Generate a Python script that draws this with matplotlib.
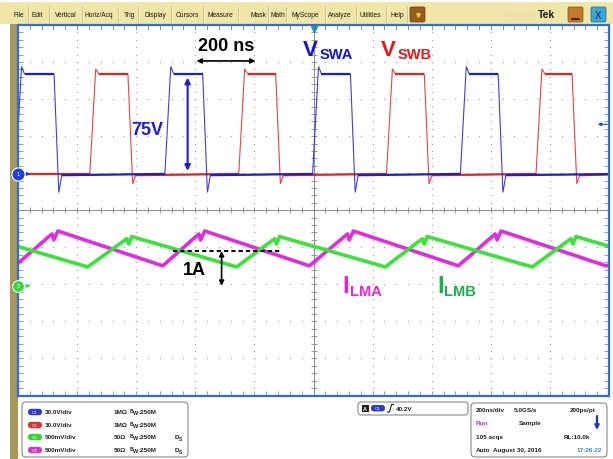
import numpy as np
import matplotlib.pyplot as plt
from matplotlib.patches import Rectangle, FancyBboxPatch
from matplotlib.collections import LineCollection

plt.rcParams['font.family'] = ['Liberation Sans', 'DejaVu Sans']

# ---------------- values ----------------
# time base 200 ns/div, 10 div on screen -> 0..2000 ns
# CH1 (VSWA) / CH2 (VSWB): 30 V/div, ground ~1 div above centre
swa_rise = [-8, 497, 997, 1497]
swa_fall = [122, 625, 1125, 1625]
swb_rise = [243, 747, 1247, 1753]
swb_fall = [372, 872, 1375, 1875]
v_high = 81.0
swa_over, swb_over = 87.0, 85.0
swa_under, swb_under = -15.0, -8.0
trig_level = 40.2

# CH4 (ILMA) / CH3 (ILMB): 1 A/div, ground ~2 div below centre
ilma_t = [-10, 115, 121, 135, 490, 612, 618, 632, 986, 1115, 1121, 1135,
          1490, 1615, 1621, 1635, 1990, 2000]
ilma_a = [0.54, 1.40, 1.24, 1.48, 0.54, 1.40, 1.24, 1.48, 0.54, 1.40, 1.24, 1.48,
          0.54, 1.40, 1.24, 1.48, 0.54, 0.56]
ilmb_t = [-115, 236, 368, 375, 385, 740, 868, 875, 885, 1243, 1368, 1375, 1385,
          1740, 1871, 1878, 1888, 2000]
ilmb_a = [1.33, 0.51, 1.27, 1.13, 1.33, 0.51, 1.27, 1.13, 1.33, 0.51, 1.27, 1.13,
          1.33, 0.51, 1.27, 1.13, 1.33, 1.07]

V_DIV = 30.0
CH12_POS = 0.98
CH34_POS = -2.04

# readout panel
ch_names = ['C1', 'C2', 'C3', 'C4']
ch_scale = ['30.0V/div', '30.0V/div', '500mV/div', '500mV/div']
ch_term = ['1M\u03a9', '1M\u03a9', '50\u03a9', '50\u03a9']
ch_ds = [False, False, True, True]
menu_items = ['File', 'Edit', 'Vertical', 'Horiz/Acq', 'Trig', 'Display', 'Cursors',
              'Measure', 'Mask', 'Math', 'MyScope', 'Analyze', 'Utilities', 'Help']

BLUE = '#1c1ce0'
RED = '#e42222'
GREEN = '#3ae23a'
MAGENTA = '#e22ae2'
PILL = ['#2a3ad8', '#d83434', '#36d236', '#d436d4']
TXT = '#222222'
FS = 4.6

fig = plt.figure(figsize=(6.13, 4.60), dpi=100)

# ---------- window chrome (pixel coordinates) ----------
bg = fig.add_axes([0, 0, 1, 1])
bg.set_xlim(0, 613)
bg.set_ylim(460, 0)
bg.axis('off')
bg.add_patch(Rectangle((0, 3), 613, 22, color='#efe6a8', lw=0))
bg.add_patch(Rectangle((10, 25), 8, 435, color='#a8965a', lw=0))

menu_x = [19, 37, 66, 99, 129, 155, 187, 220, 258, 278, 305, 340, 370, 397]
for name, x in zip(menu_items, menu_x):
    bg.text(x, 15.5, name, ha='center', va='center', fontsize=4.8, color='#1a1a1a')
for x in [28, 49, 82, 118, 138, 171, 203, 238, 268, 286, 325, 356, 386, 407]:
    bg.plot([x, x], [7, 23], color='#cbc088', lw=0.6)
    bg.plot([x + 0.8, x + 0.8], [7, 23], color='#fbf6d8', lw=0.5)

bg.add_patch(FancyBboxPatch((410, 8), 15, 15, boxstyle='round,pad=0,rounding_size=1.5',
                            fc='#9a5c1e', ec='#6a3c10', lw=0.5))
bg.plot(417.5, 15.5, marker='v', ms=2.5, color='#f0d040')
bg.text(520, 15.5, 'DPO7254', ha='center', va='center', fontsize=5, color='#e4daa0')
bg.text(547, 15.5, 'Tek', ha='center', va='center', fontsize=7.5, fontweight='bold',
        color='#1a1a1a')
bg.add_patch(FancyBboxPatch((568, 8), 15, 15, boxstyle='round,pad=0,rounding_size=1.5',
                            fc='#c47a2a', ec='#8a5010', lw=0.5))
bg.plot([572, 579], [19.5, 19.5], color='#1a1a1a', lw=1.2)
bg.add_patch(FancyBboxPatch((591, 8), 15, 15, boxstyle='round,pad=0,rounding_size=1.5',
                            fc='#3aa8d4', ec='#1a6a90', lw=0.5))
bg.text(598.5, 16, 'X', ha='center', va='center', fontsize=7, color='#102050')

# ---------- readout panels ----------
bg.add_patch(FancyBboxPatch((22, 403), 166, 55, boxstyle='round,pad=0,rounding_size=4',
                            fc='white', ec='#8a8a8a', lw=0.8))
rows_y = [413, 426, 438, 451]
for i, y in enumerate(rows_y):
    bg.add_patch(FancyBboxPatch((28, y - 3.2), 14, 6.4,
                                boxstyle='round,pad=0,rounding_size=3.2',
                                fc=PILL[i], ec='none'))
    bg.text(35, y, ch_names[i], ha='center', va='center', fontsize=3.2, color='white')
    bg.text(45, y, ch_scale[i], ha='left', va='center', fontsize=FS, fontweight='bold',
            color=TXT)
    bg.text(114, y, ch_term[i], ha='left', va='center', fontsize=FS, fontweight='bold',
            color=TXT)
    bg.text(130, y - 1.8, 'B', ha='left', va='center', fontsize=3.6, fontweight='bold',
            color=TXT)
    bg.text(133, y + 1, 'W', ha='left', va='center', fontsize=4.0, fontweight='bold',
            color=TXT)
    bg.text(138.5, y, ':250M', ha='left', va='center', fontsize=FS, fontweight='bold',
            color=TXT)
    if ch_ds[i]:
        bg.text(175, y - 0.5, 'D', ha='left', va='center', fontsize=FS, fontweight='bold',
                color=TXT)
        bg.text(179, y + 2, 'S', ha='left', va='center', fontsize=3.6, fontweight='bold',
                color=TXT)

bg.add_patch(FancyBboxPatch((358, 403), 110, 13, boxstyle='round,pad=0,rounding_size=3',
                            fc='white', ec='#8a8a8a', lw=0.8))
bg.add_patch(Rectangle((361.5, 405.5), 7, 7, fc='#202020', ec='none'))
bg.text(365, 409.2, 'A', ha='center', va='center', fontsize=4, color='white',
        fontweight='bold')
bg.add_patch(FancyBboxPatch((371, 406), 14, 6.4, boxstyle='round,pad=0,rounding_size=3.2',
                            fc=PILL[0], ec='none'))
bg.text(378, 409.2, 'C1', ha='center', va='center', fontsize=3.2, color='white')
bg.plot([387.5, 389.5, 391.5, 393.5], [413, 413, 405.5, 405.5], color=TXT, lw=0.8)
bg.text(395.5, 409.2, '40.2V', ha='left', va='center', fontsize=FS, fontweight='bold',
        color=TXT)

bg.add_patch(FancyBboxPatch((471, 404), 136, 54, boxstyle='round,pad=0,rounding_size=4',
                            fc='white', ec='#8a8a8a', lw=0.8))
kw = dict(va='center', fontsize=FS, fontweight='bold', color=TXT)
bg.text(476, 410.5, '200ns/div', ha='left', **kw)
bg.text(514, 410.5, '5.0GS/s', ha='left', **kw)
bg.text(595, 410.5, '200ps/pt', ha='right', **kw)
bg.text(476, 424, 'Run', ha='left', va='center', fontsize=FS, fontweight='bold',
        color='#e020e0')
bg.text(519, 424, 'Sample', ha='left', **kw)
bg.annotate('', xy=(597, 431), xytext=(597, 417),
            arrowprops=dict(arrowstyle='-|>', color='#1a36c8', lw=1.6,
                            mutation_scale=6, shrinkA=0, shrinkB=0))
bg.text(476, 437.5, '105 acqs', ha='left', **kw)
bg.text(590, 437.5, 'RL:10.0k', ha='right', **kw)
bg.text(476, 450.5, 'Auto', ha='left', **kw)
bg.text(493, 450.5, 'August 30, 2016', ha='left', **kw)
bg.text(602, 450.5, '17:26:22', ha='right', va='center', fontsize=FS, fontweight='bold',
        color='#3a88e0')

# ---------- scope screen ----------
ax = fig.add_axes([18 / 613, 1 - 396.5 / 460, 591 / 613, 370.5 / 460])
ax.set_xlim(0, 2000)
ax.set_ylim(-5, 5)
ax.set_facecolor('white')
for s in ax.spines.values():
    s.set_color('#2f6ed8')
    s.set_linewidth(1.6)
ax.set_xticks(np.arange(0, 2001, 40))
ax.set_yticks(np.arange(-5, 5.01, 0.2))
ax.tick_params(direction='in', length=3.5, width=0.6, color='#8c8c8c',
               top=True, right=True, labelbottom=False, labelleft=False)

# graticule dots on the major lines, cross in the middle
minor_t = np.arange(0, 2001, 40)
minor_d = np.arange(-5, 5.01, 0.2)
for k in [200, 400, 600, 800, 1200, 1400, 1600, 1800]:
    ax.plot(np.full(minor_d.size, k), minor_d, ls='', marker='s', ms=0.9,
            color='#a8a8a8', mew=0)
for k in [-4, -3, -2, -1, 1, 2, 3, 4]:
    ax.plot(minor_t, np.full(minor_t.size, k), ls='', marker='s', ms=0.9,
            color='#a8a8a8', mew=0)
ax.axhline(0, color='#8c8c8c', lw=0.7)
ax.axvline(1000, color='#8c8c8c', lw=0.7)
ax.plot(minor_t, np.zeros(minor_t.size), ls='', marker='|', ms=4, mew=0.6,
        color='#8c8c8c')
ax.plot(np.full(minor_d.size, 1000), minor_d, ls='', marker='_', ms=4, mew=0.6,
        color='#8c8c8c')


def switch_node(rise, fall, over, under):
    t, v = [-60], [0.0]
    for r, f in zip(rise, fall):
        t += [r, r + 20, r + 30, f, f + 16, f + 26]
        v += [0.0, over, v_high, v_high, under, -1.0]
    t.append(2060)
    v.append(0.0)
    return np.array(t, float), np.array(v) / V_DIV + CH12_POS


def draw_trace(t, y, color, lw_flat):
    ax.plot(t, y, color=color, lw=0.8, alpha=0.85, solid_joinstyle='miter')
    pts = np.column_stack([t, y])
    segs = [pts[i:i + 2] for i in range(len(t) - 1)
            if abs(y[i + 1] - y[i]) < 0.12 * (t[i + 1] - t[i]) / 10]
    ax.add_collection(LineCollection(segs, colors=color, linewidths=lw_flat))


draw_trace(*switch_node(swb_rise, swb_fall, swb_over, swb_under), RED, 1.6)
draw_trace(*switch_node(swa_rise, swa_fall, swa_over, swa_under), BLUE, 1.6)

ax.plot(ilma_t, np.array(ilma_a) + CH34_POS, color=MAGENTA, lw=2.6)
ax.plot(ilmb_t, np.array(ilmb_a) + CH34_POS, color=GREEN, lw=2.6)

# channel ground markers, trigger markers
ax.plot(0, CH12_POS, 'o', ms=9.5, mfc='#1f3fe0', mec='white', mew=0.8,
        clip_on=False, zorder=10)
ax.text(0, CH12_POS, '1', ha='center', va='center', fontsize=4, color='white', zorder=11)
ax.annotate('', xy=(42, CH12_POS), xytext=(18, CH12_POS),
            arrowprops=dict(arrowstyle='-|>', color='#1f3fe0', lw=0.8,
                            mutation_scale=5, shrinkA=0, shrinkB=0))
ax.plot(0, CH34_POS, 'o', ms=8.5, mfc='#34d834', mec='white', mew=0.8,
        clip_on=False, zorder=10)
ax.text(0, CH34_POS, '3', ha='center', va='center', fontsize=3.8, color='white', zorder=11)
ax.annotate('', xy=(42, CH34_POS), xytext=(18, CH34_POS),
            arrowprops=dict(arrowstyle='-|>', color='#34d834', lw=0.8,
                            mutation_scale=5, shrinkA=0, shrinkB=0))
trig_y = trig_level / V_DIV + CH12_POS
ax.annotate('', xy=(1962, trig_y), xytext=(1994, trig_y),
            arrowprops=dict(arrowstyle='-|>', color='#2040d0', lw=0.8,
                            mutation_scale=5, shrinkA=0, shrinkB=0))
ax.plot(1000, 4.9, marker='v', ms=4, color='#2a8fa8', clip_on=False, zorder=10)

# ---------- annotations ----------
ax.annotate('', xy=(604, 4.03), xytext=(804, 4.03),
            arrowprops=dict(arrowstyle='<|-|>', color='black', lw=1.2,
                            mutation_scale=7, shrinkA=0, shrinkB=0))
ax.text(704, 4.45, '200 ns', ha='center', va='center', fontsize=13, fontweight='bold')

ax.annotate('', xy=(574, 78 / V_DIV + CH12_POS), xytext=(574, 2.5 / V_DIV + CH12_POS),
            arrowprops=dict(arrowstyle='<|-|>', color=BLUE, lw=1.5,
                            mutation_scale=8, shrinkA=0, shrinkB=0))
ax.text(439, 2.19, '75V', ha='center', va='center', fontsize=13, fontweight='bold',
        color=BLUE)

ax.plot([524, 895], [0.94 + CH34_POS] * 2, color='black', lw=1.5, ls=(0, (2, 1.5)))
ax.annotate('', xy=(689, 0.94 + CH34_POS), xytext=(689, CH34_POS),
            arrowprops=dict(arrowstyle='<|-|>', color='black', lw=1.2,
                            mutation_scale=7, shrinkA=0, shrinkB=0))
ax.text(598, -1.61, '1A', ha='center', va='center', fontsize=13, fontweight='bold')

ax.text(963, 4.19, 'V', ha='left', va='baseline', fontsize=16, fontweight='bold',
        color='#1414e0')
ax.text(1021, 4.11, 'SWA', ha='left', va='baseline', fontsize=10.5, fontweight='bold',
        color='#1414e0')
ax.text(1228, 4.19, 'V', ha='left', va='baseline', fontsize=16, fontweight='bold',
        color='#e81818')
ax.text(1285, 4.11, 'SWB', ha='left', va='baseline', fontsize=10.5, fontweight='bold',
        color='#e81818')
ax.text(1098, -2.2, 'I', ha='left', va='baseline', fontsize=17, fontweight='bold',
        color='#f020e0')
ax.text(1122, -2.28, 'LMA', ha='left', va='baseline', fontsize=10.5, fontweight='bold',
        color='#f020e0')
ax.text(1419, -2.2, 'I', ha='left', va='baseline', fontsize=17, fontweight='bold',
        color='#18b04a')
ax.text(1440, -2.28, 'LMB', ha='left', va='baseline', fontsize=10.5, fontweight='bold',
        color='#18b04a')

fig.savefig('out.png', dpi=100)
